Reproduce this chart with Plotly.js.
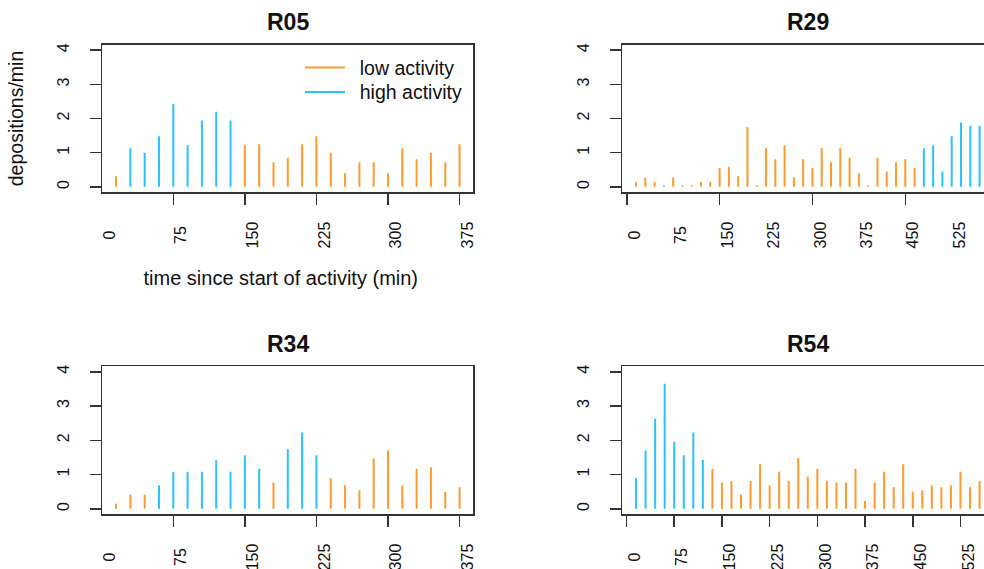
<!DOCTYPE html>
<html><head><meta charset="utf-8">
<script src="https://cdn.plot.ly/plotly-3.0.1.min.js"></script>
<style>html,body{margin:0;padding:0;overflow:hidden;background:#fff}</style>
</head><body><div id="chart"></div>
<script>
// ---------------- data ----------------
const panelNames = ['R05', 'R29', 'R34', 'R54'];

const timeR05 = [15,30,45,60,75,90,105,120,135,150,165,180,195,210,225,240,255,270,285,300,315,330,345,360,375];
const depR05  = [0.31,1.13,1.00,1.48,2.43,1.22,1.94,2.20,1.94,1.22,1.25,0.72,0.85,1.25,1.48,1.00,0.40,0.72,0.72,0.40,1.13,0.81,1.00,0.72,1.25];
const actR05  = ['L','H','H','H','H','H','H','H','H','L','L','L','L','L','L','L','L','L','L','L','L','L','L','L','L'];

const timeR29 = [15,30,45,60,75,90,105,120,135,150,165,180,195,210,225,240,255,270,285,300,315,330,345,360,375,390,405,420,435,450,465,480,495,510,525,540,555,570];
const depR29  = [0.14,0.27,0.14,0.05,0.27,0.05,0.05,0.14,0.14,0.55,0.59,0.31,1.75,0.05,1.13,0.81,1.22,0.27,0.81,0.55,1.13,0.72,1.13,0.85,0.40,0.05,0.85,0.45,0.72,0.81,0.55,1.13,1.22,0.45,1.48,1.88,1.79,1.79];
const actR29  = ['L','L','L','L','L','L','L','L','L','L','L','L','L','L','L','L','L','L','L','L','L','L','L','L','L','L','L','L','L','L','L','H','H','H','H','H','H','H'];

const timeR34 = [15,30,45,60,75,90,105,120,135,150,165,180,195,210,225,240,255,270,285,300,315,330,345,360,375];
const depR34  = [0.15,0.41,0.41,0.68,1.08,1.08,1.08,1.42,1.08,1.56,1.17,0.77,1.74,2.23,1.56,0.89,0.68,0.54,1.47,1.70,0.68,1.17,1.21,0.50,0.63];
const actR34  = ['L','L','L','H','H','H','H','H','H','H','H','L','H','H','H','L','L','L','L','L','L','L','L','L','L'];

const timeR54 = [15,30,45,60,75,90,105,120,135,150,165,180,195,210,225,240,255,270,285,300,315,330,345,360,375,390,405,420,435,450,465,480,495,510,525,540,555];
const depR54  = [0.90,1.70,2.63,3.65,1.96,1.56,2.23,1.43,1.17,0.77,0.81,0.41,0.81,1.30,0.68,1.08,0.81,1.48,0.94,1.17,0.81,0.77,0.77,1.17,0.23,0.77,1.08,0.63,1.30,0.50,0.54,0.68,0.63,0.68,1.08,0.63,0.81];
const actR54  = ['H','H','H','H','H','H','H','H','L','L','L','L','L','L','L','L','L','L','L','L','L','L','L','L','L','L','L','L','L','L','L','L','L','L','L','L','L'];

const seriesNames = {L: 'low activity', H: 'high activity'};

// axis tick labels / tick marks
const yTickVals      = [0, 1, 2, 3, 4];
const xLabelsShort   = [0, 75, 150, 225, 300, 375];
const xLabelsLong    = [0, 75, 150, 225, 300, 375, 450, 525];
const xTickMarksR05  = [75, 150, 225, 300, 375];
const xTickMarksR29  = [0, 150, 300, 450];
const xTickMarksR34  = [75, 150, 225, 300, 375];
const xTickMarksR54  = [0, 75, 150, 225, 300, 375, 450, 525];

const xTitle = 'time since start of activity (min)';
const yTitle = 'depositions/min';

// ---------------- styling / geometry ----------------
const W = 1010, H = 640;
const FONT = 'Liberation Sans, Arial, Helvetica, sans-serif';
const COLORS = {L: '#FF9B2B', H: '#27C3FF'};
const AXC = '#333333';
const COLS = [[102.3, 473.3], [622.3, 993.3]];
const ROWS = [[44.7, 192.3], [366.3, 514.3]];
const TITLE_Y = [21.7, 343.8];
const LEGEND_TOP = {L: 48.3, H: 72.7};

const panels = [
  {t: timeR05, v: depR05, a: actR05, marks: xTickMarksR05, labels: xLabelsShort, col: 0, row: 0},
  {t: timeR29, v: depR29, a: actR29, marks: xTickMarksR29, labels: xLabelsLong,  col: 1, row: 0},
  {t: timeR34, v: depR34, a: actR34, marks: xTickMarksR34, labels: xLabelsShort, col: 0, row: 1},
  {t: timeR54, v: depR54, a: actR54, marks: xTickMarksR54, labels: xLabelsLong,  col: 1, row: 1}
];

function padLabel(s) {
  if (s.length === 1) return '\u2007' + s + '\u2007';
  if (s.length === 2) return '\u2008' + s + '\u2008';
  return s;
}
function axKey(letter, n) { return letter + 'axis' + (n === 1 ? '' : n); }
function axId(letter, n) { return letter + (n === 1 ? '' : n); }

const legendBase = {
  x: 300 / W, xanchor: 'left', yanchor: 'top',
  bgcolor: 'rgba(0,0,0,0)', borderwidth: 0,
  font: {family: FONT, size: 19.5, color: '#111'},
  itemwidth: 40, tracegroupgap: 0
};

const traces = [];
const layout = {
  width: W, height: H,
  margin: {l: 0, r: 0, t: 0, b: 0},
  paper_bgcolor: '#ffffff', plot_bgcolor: 'rgba(0,0,0,0)',
  showlegend: true,
  legend:  Object.assign({}, legendBase, {y: 1 - LEGEND_TOP.L / H}),
  legend2: Object.assign({}, legendBase, {y: 1 - LEGEND_TOP.H / H}),
  annotations: []
};

panels.forEach((p, i) => {
  const k = i + 1, lk = i + 5;
  const [x0, x1] = COLS[p.col];
  const [y0, y1] = ROWS[p.row];
  const lo = Math.min(...p.t), hi = Math.max(...p.t), e = (hi - lo) * 0.04;
  const rng = [lo - e, hi + e];
  const scale = (x1 - x0) / (rng[1] - rng[0]);
  const ext = 14;

  ['L', 'H'].forEach(level => {
    const xs = [], ys = [];
    p.t.forEach((t, j) => {
      if (p.a[j] === level) { xs.push(t, t, null); ys.push(0, p.v[j], null); }
    });
    traces.push({
      type: 'scatter', mode: 'lines', x: xs, y: ys,
      xaxis: axId('x', k), yaxis: axId('y', k),
      name: '\u2002' + seriesNames[level],
      legend: level === 'L' ? 'legend' : 'legend2',
      showlegend: i === 0,
      line: {color: COLORS[level], width: 2},
      hoverinfo: 'skip'
    });
  });
  // empty trace so the tick-label axis gets drawn
  traces.push({type: 'scatter', mode: 'lines', x: [], y: [],
    xaxis: axId('x', lk), yaxis: axId('y', k), showlegend: false, hoverinfo: 'skip'});

  layout[axKey('x', k)] = {
    domain: [x0 / W, x1 / W], range: rng, anchor: axId('y', k),
    showline: true, mirror: true, linecolor: AXC, linewidth: 1.5,
    ticks: 'outside', ticklen: 11, tickwidth: 1.5, tickcolor: AXC,
    tickmode: 'array', tickvals: p.marks, showticklabels: false,
    showgrid: false, zeroline: false, fixedrange: true
  };
  const labAx = {
    domain: [(x0 - ext) / W, x1 / W], range: [rng[0] - ext / scale, rng[1]],
    anchor: axId('y', k), showline: false,
    ticks: 'outside', ticklen: 11, tickwidth: 1, tickcolor: 'rgba(0,0,0,0)',
    tickmode: 'array', tickvals: p.labels, ticktext: p.labels.map(v => padLabel(String(v))),
    tickangle: -90, ticklabelshift: 8, ticklabelstandoff: 11,
    tickfont: {family: FONT, size: 16, color: '#111'},
    showgrid: false, zeroline: false, fixedrange: true
  };
  if (i === 0) labAx.title = {text: xTitle, font: {family: FONT, size: 20, color: '#111'}, standoff: 23};
  layout[axKey('x', lk)] = labAx;

  const yAx = {
    domain: [1 - y1 / H, 1 - y0 / H], range: [-0.16, 4.16], anchor: axId('x', k),
    showline: true, mirror: true, linecolor: AXC, linewidth: 1.5,
    ticks: 'outside', ticklen: 11, tickwidth: 1.5, tickcolor: AXC,
    tickmode: 'array', tickvals: yTickVals, tickangle: -90, ticklabelstandoff: 14,
    tickfont: {family: FONT, size: 16, color: '#111'},
    showgrid: false, zeroline: false, fixedrange: true
  };
  if (i === 0) yAx.title = {text: yTitle, font: {family: FONT, size: 19.5, color: '#111'}, standoff: 26};
  layout[axKey('y', k)] = yAx;

  layout.annotations.push({
    text: panelNames[i], xref: 'paper', yref: 'paper',
    x: (x0 + x1) / 2 / W, y: 1 - TITLE_Y[p.row] / H,
    xanchor: 'center', yanchor: 'middle', showarrow: false,
    font: {family: FONT, size: 23, color: '#111', weight: 700}
  });
});

Plotly.newPlot('chart', traces, layout, {displayModeBar: false, staticPlot: true});
</script>
</body></html>
